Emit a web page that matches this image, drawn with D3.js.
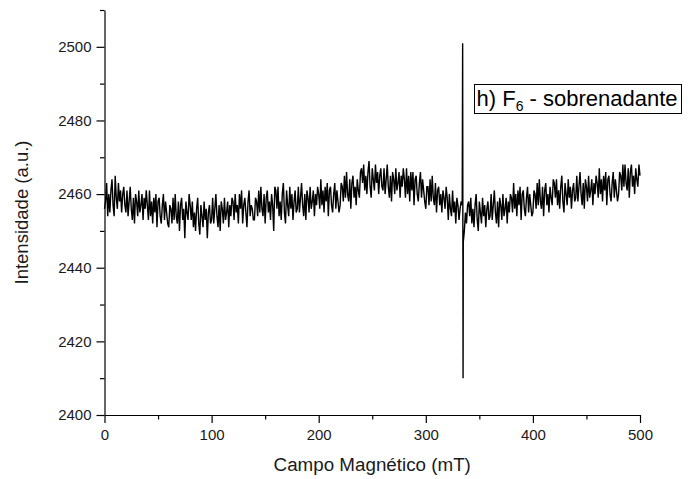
<!DOCTYPE html>
<html>
<head>
<meta charset="utf-8">
<script src="https://cdn.jsdelivr.net/npm/d3@7"></script>
<style>
  body { margin: 0; background: #fff; }
  svg { display: block; font-family: "Liberation Sans", Arial, sans-serif; }
</style>
</head>
<body>
<svg id="chart" width="700" height="479"></svg>
<script>
const fieldStart = 0;
const fieldStep = 1;
const intensity = [
  2456, 2458, 2463, 2454, 2460, 2455, 2461, 2464, 2457, 2454, 2465, 2459, 2456, 2463, 2458, 2461, 2455, 2460, 2462, 2457,
  2455, 2461, 2454, 2458, 2462, 2456, 2453, 2459, 2452, 2460, 2458, 2454, 2461, 2455, 2457, 2460, 2453, 2459, 2456, 2461,
  2457, 2453, 2461, 2454, 2458, 2452, 2459, 2455, 2460, 2451, 2458, 2459, 2454, 2452, 2457, 2460, 2453, 2458, 2455, 2452,
  2451, 2457, 2456, 2452, 2459, 2453, 2460, 2454, 2452, 2458, 2450, 2457, 2459, 2453, 2456, 2448, 2458, 2455, 2453, 2460,
  2457, 2453, 2458, 2451, 2455, 2450, 2456, 2459, 2452, 2449, 2457, 2454, 2451, 2458, 2453, 2456, 2448, 2455, 2457, 2452,
  2453, 2459, 2452, 2456, 2460, 2454, 2451, 2457, 2450, 2458, 2456, 2452, 2459, 2453, 2455, 2458, 2451, 2457, 2454, 2459,
  2458, 2453, 2460, 2455, 2457, 2452, 2460, 2456, 2461, 2452, 2457, 2459, 2455, 2451, 2458, 2461, 2454, 2457, 2456, 2453,
  2453, 2459, 2458, 2454, 2461, 2455, 2462, 2456, 2454, 2460, 2452, 2459, 2461, 2455, 2458, 2453, 2460, 2457, 2450, 2462,
  2461, 2456, 2462, 2454, 2458, 2453, 2460, 2463, 2455, 2452, 2461, 2457, 2454, 2462, 2456, 2460, 2453, 2458, 2461, 2455,
  2456, 2462, 2455, 2459, 2463, 2457, 2454, 2460, 2453, 2461, 2459, 2455, 2462, 2456, 2458, 2461, 2454, 2460, 2457, 2462,
  2460, 2456, 2464, 2457, 2461, 2455, 2462, 2458, 2463, 2454, 2461, 2462, 2457, 2455, 2460, 2463, 2456, 2461, 2458, 2455,
  2457, 2463, 2462, 2458, 2465, 2459, 2466, 2460, 2458, 2464, 2456, 2463, 2465, 2459, 2462, 2457, 2464, 2461, 2459, 2466,
  2467, 2463, 2468, 2461, 2465, 2460, 2466, 2469, 2462, 2459, 2467, 2464, 2461, 2468, 2463, 2466, 2460, 2465, 2467, 2462,
  2461, 2467, 2460, 2464, 2468, 2462, 2459, 2465, 2458, 2466, 2464, 2460, 2467, 2461, 2463, 2466, 2459, 2465, 2462, 2467,
  2464, 2459, 2467, 2460, 2465, 2458, 2466, 2461, 2466, 2457, 2464, 2465, 2460, 2458, 2463, 2466, 2459, 2464, 2461, 2458,
  2456, 2462, 2462, 2457, 2464, 2458, 2465, 2459, 2457, 2463, 2455, 2461, 2462, 2457, 2460, 2455, 2461, 2459, 2456, 2462,
  2459, 2453, 2460, 2456, 2454, 2461, 2455, 2458, 2452, 2459, 2457, 2453, 2456, 2458, 2457, 2447, 2450, 2455, 2452, 2457,
  2458, 2454, 2459, 2452, 2456, 2451, 2457, 2460, 2453, 2450, 2458, 2455, 2452, 2459, 2454, 2457, 2451, 2456, 2458, 2453,
  2454, 2460, 2453, 2457, 2461, 2455, 2452, 2458, 2451, 2459, 2457, 2453, 2460, 2454, 2456, 2459, 2452, 2458, 2455, 2460,
  2459, 2455, 2463, 2456, 2460, 2454, 2461, 2457, 2462, 2453, 2460, 2461, 2456, 2454, 2459, 2462, 2455, 2460, 2457, 2454,
  2455, 2461, 2460, 2456, 2463, 2457, 2464, 2458, 2456, 2462, 2454, 2461, 2463, 2457, 2460, 2455, 2462, 2459, 2457, 2464,
  2463, 2459, 2464, 2457, 2461, 2456, 2462, 2465, 2458, 2455, 2463, 2460, 2457, 2464, 2459, 2462, 2456, 2461, 2463, 2458,
  2459, 2465, 2458, 2462, 2466, 2460, 2457, 2463, 2456, 2464, 2462, 2458, 2465, 2459, 2461, 2464, 2457, 2463, 2460, 2465,
  2463, 2459, 2467, 2460, 2464, 2458, 2465, 2461, 2466, 2457, 2464, 2465, 2460, 2458, 2463, 2466, 2459, 2464, 2461, 2458,
  2460, 2466, 2465, 2461, 2468, 2462, 2468, 2463, 2461, 2467, 2459, 2466, 2468, 2462, 2465, 2460, 2467, 2464, 2462, 2468,
  2465
];
// the sharp resonance line near 335 mT
const spikeField = [334.4, 334.8];
const spikeIntensity = [2501, 2410];

const xMajor = [0, 100, 200, 300, 400, 500];
const xMinor = [50, 150, 250, 350, 450];
const yMajor = [2400, 2420, 2440, 2460, 2480, 2500];
const yMinor = [2410, 2430, 2450, 2470, 2490, 2510];

const points = intensity
  .map((v, i) => ({ field: fieldStart + i * fieldStep, value: v }))
  .concat(spikeField.map((f, i) => ({ field: f, value: spikeIntensity[i] })))
  .sort((a, b) => a.field - b.field);

const svg = d3.select("#chart");
const m = { left: 104.5, right: 60, top: 10, bottom: 64 };
const w = 700, h = 479;

const x = d3.scaleLinear().domain([0, 500]).range([m.left, w - m.right]);
const y = d3.scaleLinear().domain([2400, 2510]).range([h - m.bottom, m.top]);

// minor ticks
svg.append("g")
  .attr("transform", `translate(0,${h - m.bottom})`)
  .call(d3.axisBottom(x).tickValues(xMinor).tickSize(4.5).tickFormat(""))
  .call(g => g.select(".domain").remove());
svg.append("g")
  .attr("transform", `translate(${m.left},0)`)
  .call(d3.axisLeft(y).tickValues(yMinor).tickSize(4.5).tickFormat(""))
  .call(g => g.select(".domain").remove());

svg.append("g")
  .attr("transform", `translate(0,${h - m.bottom})`)
  .call(d3.axisBottom(x).tickValues(xMajor).tickFormat(d3.format("d"))
    .tickSize(8).tickSizeOuter(0).tickPadding(6));
svg.append("g")
  .attr("transform", `translate(${m.left},0)`)
  .call(d3.axisLeft(y).tickValues(yMajor).tickFormat(d3.format("d"))
    .tickSize(8).tickSizeOuter(0).tickPadding(5));

svg.selectAll(".tick line, .domain").attr("stroke", "#000").attr("stroke-width", 1.2);
svg.selectAll(".tick text")
  .attr("fill", "#1a1a1a")
  .style("font-size", "15px")
  .style("font-family", "'Liberation Sans', Arial, sans-serif");

const line = d3.line()
  .x(d => x(d.field))
  .y(d => y(d.value));

svg.append("path")
  .datum(points)
  .attr("fill", "none")
  .attr("stroke", "#000")
  .attr("stroke-width", 1.4)
  .attr("d", line);

svg.append("text")
  .attr("x", (m.left + w - m.right) / 2)
  .attr("y", 471)
  .attr("text-anchor", "middle")
  .attr("fill", "#1a1a1a")
  .style("font-size", "18.8px")
  .text("Campo Magnético (mT)");

svg.append("text")
  .attr("transform", `translate(28,${(m.top + h - m.bottom) / 2}) rotate(-90)`)
  .attr("text-anchor", "middle")
  .attr("fill", "#1a1a1a")
  .style("font-size", "18.5px")
  .text("Intensidade (a.u.)");

// legend box
svg.append("rect")
  .attr("x", 474.5).attr("y", 84.5)
  .attr("width", 207).attr("height", 29)
  .attr("fill", "#fff")
  .attr("stroke", "#000")
  .attr("stroke-width", 1);

const lt = svg.append("text")
  .attr("x", 476.5)
  .attr("y", 106)
  .attr("fill", "#000")
  .style("font-size", "22px");
lt.append("tspan").text("h) F");
lt.append("tspan").attr("dy", 5).style("font-size", "14px").text("6");
lt.append("tspan").attr("dy", -5).text(" - sobrenadante");
</script>
</body>
</html>
